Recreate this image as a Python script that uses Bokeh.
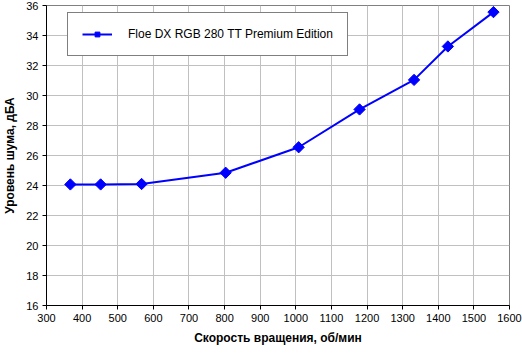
import math
from bokeh.plotting import figure
from bokeh.models import Legend, LegendItem, FixedTicker, Range1d
from bokeh.embed import file_html
from bokeh.resources import INLINE

speed = [367, 452, 567, 803, 1008, 1179, 1332, 1427, 1555]
noise = [24.07, 24.07, 24.1, 24.85, 26.55, 29.07, 31.04, 33.27, 35.56]
series_name = "Floe DX RGB 280 TT Premium Edition"
x_ticks = list(range(300, 1601, 100))
y_ticks = list(range(16, 37, 2))

p = figure(width=522, height=356, output_backend="svg", toolbar_location=None,
           x_range=Range1d(300, 1600), y_range=Range1d(16, 36),
           min_border_left=46, min_border_right=13, min_border_top=5, min_border_bottom=51)
p.background_fill_color = "white"
p.border_fill_color = "white"
p.outline_line_color = "#808080"
p.outline_line_width = 1

FONT = "Liberation Sans"
for ax, ticks in ((p.xaxis, x_ticks), (p.yaxis, y_ticks)):
    ax.ticker = FixedTicker(ticks=ticks)
    ax.axis_line_color = "black"
    ax.axis_line_width = 1
    ax.major_tick_line_color = "black"
    ax.major_tick_out = 4
    ax.major_tick_in = 0
    ax.minor_tick_line_color = None
    ax.major_label_text_font = FONT
    ax.major_label_text_font_size = "11px"
    ax.major_label_text_color = "black"
    ax.axis_label_text_font = FONT
    ax.axis_label_text_font_size = "12px"
    ax.axis_label_text_font_style = "bold"
    ax.axis_label_text_color = "black"

p.xaxis.axis_label = "Скорость вращения, об/мин"
p.yaxis.axis_label = "Уровень шума, дБА"
p.xaxis.major_label_standoff = 4
p.yaxis.major_label_standoff = 4
p.xaxis.axis_label_standoff = 6
p.yaxis.axis_label_standoff = 6

p.grid.grid_line_color = "#c0c0c0"
p.grid.grid_line_width = 1
p.xgrid.ticker = FixedTicker(ticks=x_ticks)
p.ygrid.ticker = FixedTicker(ticks=y_ticks)

ln = p.line(speed, noise, line_color="#0000ff", line_width=2)
mk = p.scatter(speed, noise, marker="square", angle=math.pi / 4, size=8,
               fill_color="#0000ff", line_color="#0000ff")

legend = Legend(items=[LegendItem(label=series_name, renderers=[ln, mk])],
                location=(21, 249), orientation="vertical")
legend.border_line_color = "black"
legend.border_line_width = 1
legend.background_fill_color = "white"
legend.background_fill_alpha = 1
legend.label_text_font = FONT
legend.label_text_font_size = "12px"
legend.label_text_color = "black"
legend.glyph_width = 30
legend.glyph_height = 12
legend.label_height = 12
legend.label_standoff = 16
legend.padding = 14
legend.margin = 0
legend.spacing = 0
p.add_layout(legend, "center")

open("out.html", "w").write(file_html(p, INLINE))
